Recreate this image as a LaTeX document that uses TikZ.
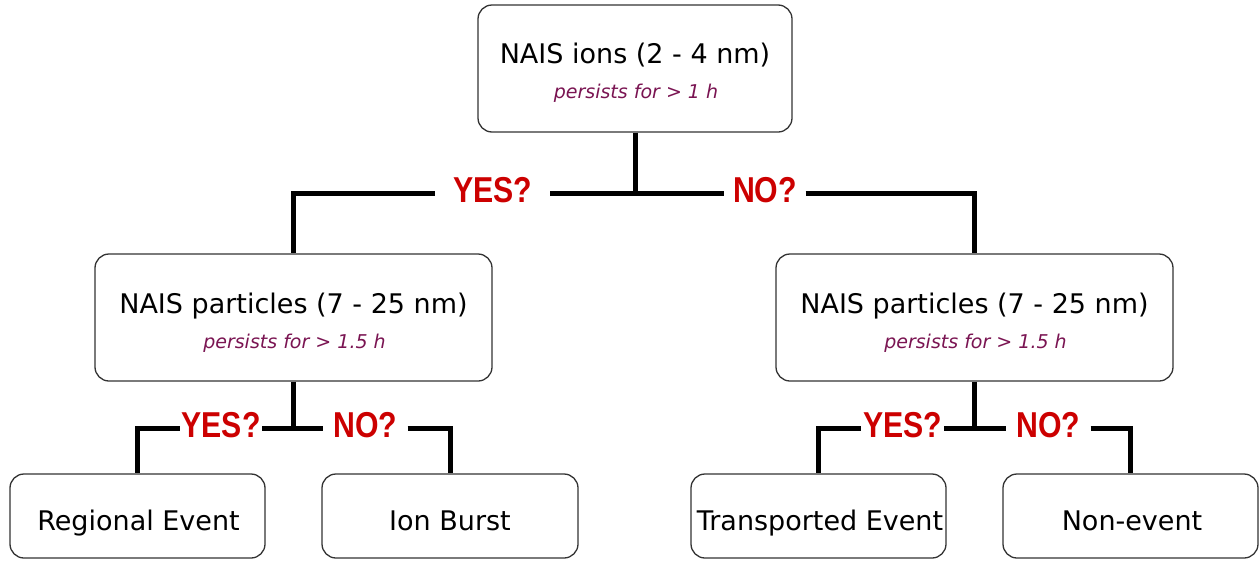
\documentclass[tikz,border=0pt]{standalone}
\usepackage{fontspec}
\setmainfont{DejaVu Sans}
\newfontfamily\labfont{Liberation Sans}[FakeStretch=0.84]
\definecolor{ansred}{HTML}{CC0000}
\definecolor{subpurple}{HTML}{7A1452}
\definecolor{boxgray}{HTML}{333333}
\tikzset{
  box/.style={draw=boxgray, line width=1.3pt, rounded corners=14pt, fill=white, inner sep=0pt},
  maintxt/.style={anchor=base, inner sep=0pt, font=\fontsize{27}{32}\selectfont},
  subtxt/.style={anchor=base, inner sep=0pt, text=subpurple, font=\fontsize{19}{24}\selectfont\itshape},
  conn/.style={line width=5pt, draw=black},
  ans/.style={text=ansred, inner ysep=0pt, font=\labfont\bfseries\fontsize{36}{36}\selectfont}
}
\begin{document}
\begin{tikzpicture}[x=1pt,y=-1pt]
\useasboundingbox (0,0) rectangle (1260,560);
% boxes
\node[box, minimum width=314pt, minimum height=127pt] (top) at (635,68.5) {};
\node[maintxt] (topa) at (635,63.3) {NAIS ions (2 - 4 nm)};
\node[subtxt] (topb) at (636,98.3) {persists for > 1 h};
\node[box, minimum width=397pt, minimum height=127pt] (lmid) at (293.5,317.5) {};
\node[maintxt] (lmida) at (293.5,313.3) {NAIS particles (7 - 25 nm)};
\node[subtxt] (lmidb) at (294.5,348.3) {persists for > 1.5 h};
\node[box, minimum width=397pt, minimum height=127pt] (rmid) at (974.5,317.5) {};
\node[maintxt] (rmida) at (974.5,313.3) {NAIS particles (7 - 25 nm)};
\node[subtxt] (rmidb) at (975.5,348.3) {persists for > 1.5 h};
\node[box, minimum width=255pt, minimum height=84pt] (reg) at (137.5,516) {};
\node[maintxt] (rega) at (138.5,530) {Regional Event};
\node[box, minimum width=256pt, minimum height=84pt] (ion) at (450,516) {};
\node[maintxt] (iona) at (450,530) {Ion Burst};
\node[box, minimum width=255pt, minimum height=84pt] (tra) at (818.5,516) {};
\node[maintxt] (traa) at (820,530) {Transported Event};
\node[box, minimum width=255pt, minimum height=84pt] (non) at (1130.5,516) {};
\node[maintxt] (nona) at (1132,530) {Non-event};
% answer labels
\node[ans, inner xsep=18pt] (yes1) at (492.5,190) {YES?};
\node[ans, inner xsep=8.5pt] (no1) at (765,190) {NO?};
\node[ans, inner xsep=1.5pt] (yes2) at (221,425) {YES?};
\node[ans, inner xsep=10pt] (no2) at (365.5,425) {NO?};
\node[ans, inner xsep=2pt] (yes3) at (902.5,425) {YES?};
\node[ans, inner xsep=10pt] (no3) at (1048.5,425) {NO?};
% junctions
\coordinate (j1) at (635,193);
\coordinate (j2) at (293.5,428);
\coordinate (j3) at (974.5,428);
% connectors
\draw[conn] (top.south) -- (j1);
\draw[conn] (yes1.east |- j1) -- (j1) -- (no1.west |- j1);
\draw[conn] (yes1.west |- j1) -| (lmid.north);
\draw[conn] (no1.east |- j1) -| (rmid.north);
\draw[conn] (lmid.south) -- (j2);
\draw[conn] (yes2.east |- j2) -- (j2) -- (no2.west |- j2);
\draw[conn] (yes2.west |- j2) -| (reg.north);
\draw[conn] (no2.east |- j2) -| (ion.north);
\draw[conn] (rmid.south) -- (j3);
\draw[conn] (yes3.east |- j3) -- (j3) -- (no3.west |- j3);
\draw[conn] (yes3.west |- j3) -| (tra.north);
\draw[conn] (no3.east |- j3) -| (non.north);
\end{tikzpicture}
\end{document}
